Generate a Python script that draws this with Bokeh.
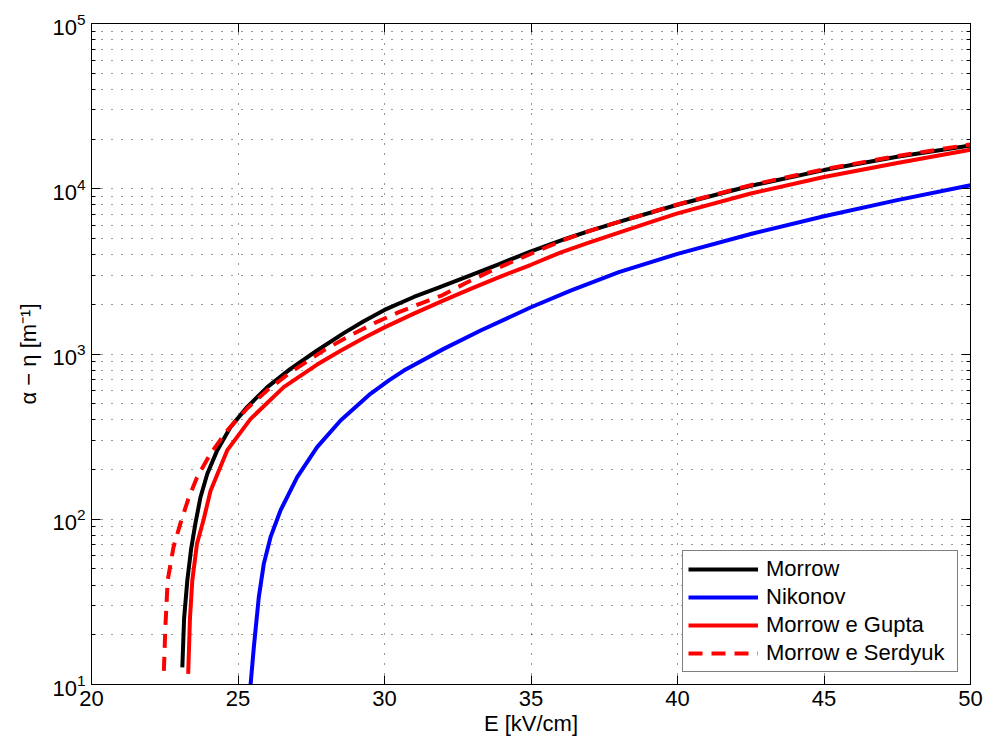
from bokeh.plotting import figure
from bokeh.models import (Range1d, FixedTicker, LinearAxis, LogAxis, Legend,
                          LegendItem, CustomJSTickFormatter)
from bokeh.embed import file_html
from bokeh.resources import INLINE

# ---- data ----
morrow_E = [23.10, 23.16, 23.27, 23.40, 23.55, 23.72, 23.95, 24.29, 24.74, 25.31,
            26.00, 26.79, 27.70, 28.61, 29.29, 30.00, 31.00, 31.80, 32.71, 33.85,
            35.00, 36.12, 37.00, 38.00, 40.00, 42.50, 45.00, 47.50, 50.00]
morrow_v = [12.7, 25, 42.6, 66, 95, 136, 188, 261, 360, 477,
            630, 813, 1050, 1337, 1578, 1849, 2213, 2500, 2884, 3467,
            4178, 4932, 5560, 6310, 8000, 10420, 12970, 15600, 18280]

nikonov_E = [25.43, 25.54, 25.71, 25.88, 26.11, 26.45, 27.02, 27.70, 28.50, 29.52,
             30.15, 30.66, 32.02, 33.28, 35.00, 36.35, 38.00, 40.00, 42.50, 45.00,
             47.50, 50.00]
nikonov_v = [10, 16.8, 33.8, 53.7, 77.9, 113, 180, 273, 396, 574,
             692, 794, 1074, 1387, 1919, 2420, 3126, 4036, 5321, 6817,
             8531, 10500]

gupta_E = [23.30, 23.36, 23.44, 23.60, 23.83, 24.06, 24.63, 25.43, 26.56, 27.70,
           28.50, 29.29, 30.00, 31.00, 32.00, 33.00, 34.00, 35.00, 36.00, 37.00,
           38.00, 39.00, 40.00, 42.50, 45.00, 47.50, 50.00]
gupta_v = [11.6, 25, 42.6, 71, 100, 148, 261, 405, 630, 863,
           1047, 1250, 1449, 1754, 2104, 2506, 2958, 3467, 4111, 4742,
           5433, 6209, 7096, 9354, 11770, 14320, 17220]

serdyuk_E = [22.47, 22.52, 22.60, 22.80, 23.04, 23.30, 23.60, 24.06, 24.63, 25.31,
             26.00, 26.79, 27.93, 28.80, 29.69, 30.49, 31.34, 31.97, 32.76, 33.56,
             34.41, 35.27, 36.12, 37.00, 38.00, 40.00, 42.50, 45.00, 47.50, 50.00]
serdyuk_v = [12.1, 22, 42.6, 68, 95, 132, 179, 249, 344, 468,
             604, 774, 1052, 1288, 1549, 1791, 2056, 2265, 2679, 3141,
             3648, 4236, 4898, 5560, 6310, 8035, 10520, 13120, 15780, 18530]

x_ticks = [20, 25, 30, 35, 40, 45, 50]
y_ticks = [10, 100, 1000, 10000, 100000]
y_minor = [m * 10 ** k for k in range(1, 5) for m in range(2, 10)]

labels = ["Morrow", "Nikonov", "Morrow e Gupta", "Morrow e Serdyuk"]

FONT = "Liberation Sans"
FS = "22px"

p = figure(width=987, height=744, y_axis_type="log",
           x_range=Range1d(20, 50), y_range=Range1d(10, 1e5),
           output_backend="svg", toolbar_location=None,
           min_border_left=91, min_border_right=17, min_border_top=23,
           min_border_bottom=60)
p.background_fill_color = "white"
p.border_fill_color = "white"
p.outline_line_color = "black"
p.outline_line_width = 1

xt = FixedTicker(ticks=x_ticks, minor_ticks=[])
yt = FixedTicker(ticks=y_ticks, minor_ticks=y_minor)

p.xaxis.ticker = xt
p.yaxis.ticker = yt

for ax in (p.xaxis[0], p.yaxis[0]):
    ax.major_tick_in = 9
    ax.major_tick_out = 0
    ax.minor_tick_in = 4
    ax.minor_tick_out = 0
    ax.axis_line_color = "black"
    ax.major_tick_line_color = "black"
    ax.minor_tick_line_color = "black"
    ax.major_label_text_font = FONT
    ax.major_label_text_font_size = FS
    ax.major_label_text_color = "black"
    ax.axis_label_text_font = FONT
    ax.axis_label_text_font_size = FS
    ax.axis_label_text_font_style = "normal"
    ax.axis_label_text_color = "black"

p.xaxis.axis_label = "E [kV/cm]"
p.yaxis.axis_label = "α − η [m⁻¹]"
p.xaxis.major_label_standoff = 6
p.xaxis.axis_label_standoff = 2
p.yaxis.major_label_standoff = 6
p.yaxis.axis_label_standoff = 8

blank = CustomJSTickFormatter(code="return ''")
top = LinearAxis(ticker=xt, formatter=blank, major_tick_in=9, major_tick_out=0,
                 minor_tick_in=0, minor_tick_out=0, axis_line_color="black",
                 major_label_standoff=0)
right = LogAxis(ticker=yt, formatter=blank, major_tick_in=9, major_tick_out=0,
                minor_tick_in=4, minor_tick_out=0, axis_line_color="black",
                major_label_standoff=0)
p.add_layout(top, "above")
p.add_layout(right, "right")

# dotted grids
p.xgrid.grid_line_color = "black"
p.xgrid.grid_line_dash = "1 9"
p.xgrid.grid_line_alpha = 0.8
p.ygrid.grid_line_color = "black"
p.ygrid.grid_line_dash = "1 9"
p.ygrid.grid_line_alpha = 0.8
p.ygrid.minor_grid_line_color = "black"
p.ygrid.minor_grid_line_dash = "1 9"
p.ygrid.minor_grid_line_alpha = 0.8

LW = 4
r1 = p.line(morrow_E, morrow_v, line_color="black", line_width=LW, line_join="round")
r2 = p.line(nikonov_E, nikonov_v, line_color="blue", line_width=LW, line_join="round")
r3 = p.line(gupta_E, gupta_v, line_color="red", line_width=LW, line_join="round")
r4 = p.line(serdyuk_E, serdyuk_v, line_color="red", line_width=LW, line_dash="14 9")

legend = Legend(items=[LegendItem(label=labels[0], renderers=[r1]),
                       LegendItem(label=labels[1], renderers=[r2]),
                       LegendItem(label=labels[2], renderers=[r3]),
                       LegendItem(label=labels[3], renderers=[r4])],
                location="bottom_right")
legend.border_line_color = "black"
legend.border_line_width = 1
legend.background_fill_color = "white"
legend.background_fill_alpha = 1
legend.label_text_font = FONT
legend.label_text_font_size = FS
legend.label_text_color = "black"
legend.glyph_width = 70
legend.glyph_height = 20
legend.label_height = 20
legend.label_width = 186
legend.spacing = 2
legend.padding = 5
legend.margin = 12
legend.label_standoff = 8
p.add_layout(legend)

open("out.html", "w").write(file_html(p, INLINE))
